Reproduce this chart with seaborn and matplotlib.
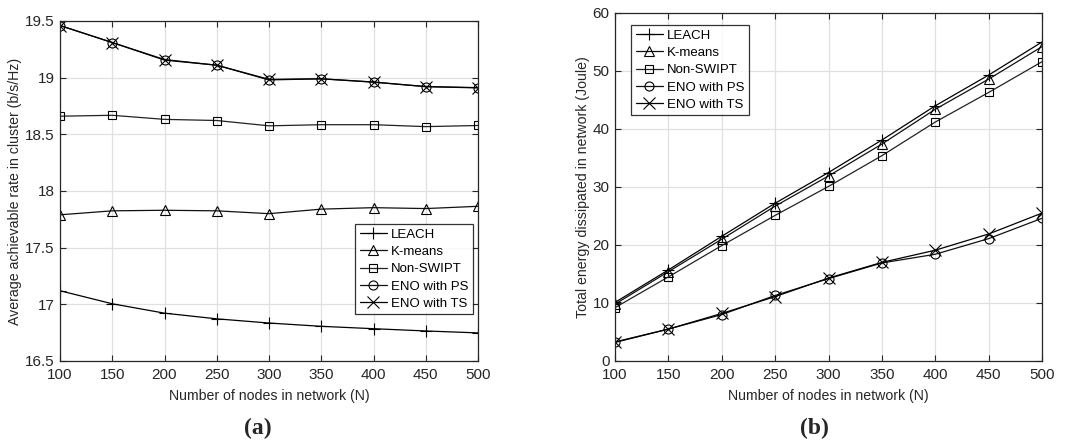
import matplotlib
matplotlib.use("Agg")
import matplotlib.pyplot as plt
import seaborn as sns
import pandas as pd
import numpy as np

# ---------------- data ----------------
nodes = [100, 150, 200, 250, 300, 350, 400, 450, 500]
series_names = ["LEACH", "K-means", "Non-SWIPT", "ENO with PS", "ENO with TS"]

rate_leach = [17.12, 17.005, 16.922, 16.872, 16.835, 16.806, 16.785, 16.765, 16.748]
rate_kmeans = [17.79, 17.825, 17.83, 17.825, 17.80, 17.84, 17.853, 17.845, 17.865]
rate_nonswipt = [18.66, 18.668, 18.632, 18.622, 18.575, 18.585, 18.585, 18.568, 18.578]
rate_eno_ps = [19.46, 19.31, 19.16, 19.11, 18.98, 18.99, 18.962, 18.92, 18.91]
rate_eno_ts = [19.46, 19.31, 19.155, 19.11, 18.985, 18.99, 18.96, 18.922, 18.912]

energy_leach = [10.1, 15.7, 21.5, 27.2, 32.5, 38.1, 44.0, 49.3, 55.0]
energy_kmeans = [9.8, 15.4, 21.0, 26.7, 31.9, 37.4, 43.4, 48.6, 54.2]
energy_nonswipt = [9.2, 14.5, 19.9, 25.1, 30.1, 35.4, 41.2, 46.3, 51.6]
energy_eno_ps = [3.3, 5.5, 8.0, 11.3, 14.2, 16.9, 18.4, 21.1, 24.6]
energy_eno_ts = [3.2, 5.5, 8.2, 11.1, 14.3, 17.0, 19.1, 21.9, 25.5]

xticks = [100, 150, 200, 250, 300, 350, 400, 450, 500]
rate_yticks = [16.5, 17, 17.5, 18, 18.5, 19, 19.5]
rate_yticklabels = ["16.5", "17", "17.5", "18", "18.5", "19", "19.5"]
energy_yticks = [0, 10, 20, 30, 40, 50, 60]

markers = {"LEACH": "+", "K-means": "^", "Non-SWIPT": "s",
           "ENO with PS": "o", "ENO with TS": "x"}
msizes = {"LEACH": 8, "K-means": 6.5, "Non-SWIPT": 5.5, "ENO with PS": 6.5, "ENO with TS": 8}
lcolors = {"LEACH": "#000000", "K-means": "#111111", "Non-SWIPT": "#222222",
           "ENO with PS": "#111111", "ENO with TS": "#000000"}

# ---------------- style ----------------
sns.set_theme(style="white")
plt.rcParams["font.family"] = ["Liberation Sans", "DejaVu Sans"]
plt.rcParams["xtick.direction"] = "in"
plt.rcParams["ytick.direction"] = "in"

fig = plt.figure(figsize=(10.70, 4.43), dpi=100)
axA = fig.add_axes([60 / 1070, (443 - 361) / 443, 418 / 1070, 340 / 443])
axB = fig.add_axes([615 / 1070, (443 - 361) / 443, 427 / 1070, 348 / 443])

def build(values):
    rows = []
    for name, vals in zip(series_names, values):
        for n, v in zip(nodes, vals):
            rows.append({"N": n, "value": v, "series": name})
    return pd.DataFrame(rows)

dfA = build([rate_leach, rate_kmeans, rate_nonswipt, rate_eno_ps, rate_eno_ts])
dfB = build([energy_leach, energy_kmeans, energy_nonswipt, energy_eno_ps, energy_eno_ts])

text_col = "#262626"

def draw(ax, df, ylim, yticks, yticklabels, ylabel, legend_anchor):
    for name in series_names:
        sub = df[df["series"] == name]
        sns.lineplot(data=sub, x="N", y="value", ax=ax, color=lcolors[name],
                     marker=markers[name], markersize=msizes[name],
                     markerfacecolor="none", markeredgecolor="black",
                     markeredgewidth=0.8, linewidth=0.9, label=name,
                     estimator=None, errorbar=None)
    ax.set_xlim(100, 500)
    ax.set_ylim(*ylim)
    ax.set_xticks(xticks)
    ax.set_yticks(yticks)
    ax.set_yticklabels(yticklabels)
    ax.grid(True, color="#e0e0e0", linewidth=0.9)
    ax.set_axisbelow(True)
    for sp in ax.spines.values():
        sp.set_visible(True)
        sp.set_color(text_col)
        sp.set_linewidth(0.9)
    ax.tick_params(axis="both", which="both", direction="in", length=4,
                   width=0.8, colors=text_col, labelsize=11, top=True,
                   right=True, bottom=True, left=True)
    ax.tick_params(axis="x", pad=5)
    ax.tick_params(axis="y", pad=4)
    ax.set_xlabel("Number of nodes in network (N)", fontsize=10.2, color=text_col, labelpad=5)
    ax.set_ylabel(ylabel, fontsize=10.2, color=text_col, labelpad=2)
    leg = ax.legend(loc="upper left", bbox_to_anchor=legend_anchor, frameon=True,
                    fancybox=False, edgecolor="black", fontsize=9.5,
                    handlelength=2.1, handletextpad=0.25, borderpad=0.35,
                    labelspacing=0.38, borderaxespad=0.0)
    leg.get_frame().set_linewidth(0.9)
    for t in leg.get_texts():
        t.set_color("black")

draw(axA, dfA, (16.5, 19.5), rate_yticks, rate_yticklabels,
     "Average achievable rate in cluster (b/s/Hz)",
     ((355 - 60) / 418, (361 - 224) / 340))
draw(axB, dfB, (0, 60), energy_yticks, [str(v) for v in energy_yticks],
     "Total energy dissipated in network (Joule)",
     ((631 - 615) / 427, (361 - 25) / 348))

fig.text(258 / 1070, 1 - 428 / 443, "(a)", ha="center", va="center",
         fontsize=17, fontweight="bold", family=["Liberation Serif", "DejaVu Serif"])
fig.text(814 / 1070, 1 - 428 / 443, "(b)", ha="center", va="center",
         fontsize=17, fontweight="bold", family=["Liberation Serif", "DejaVu Serif"])

fig.savefig("out.png", dpi=100)
